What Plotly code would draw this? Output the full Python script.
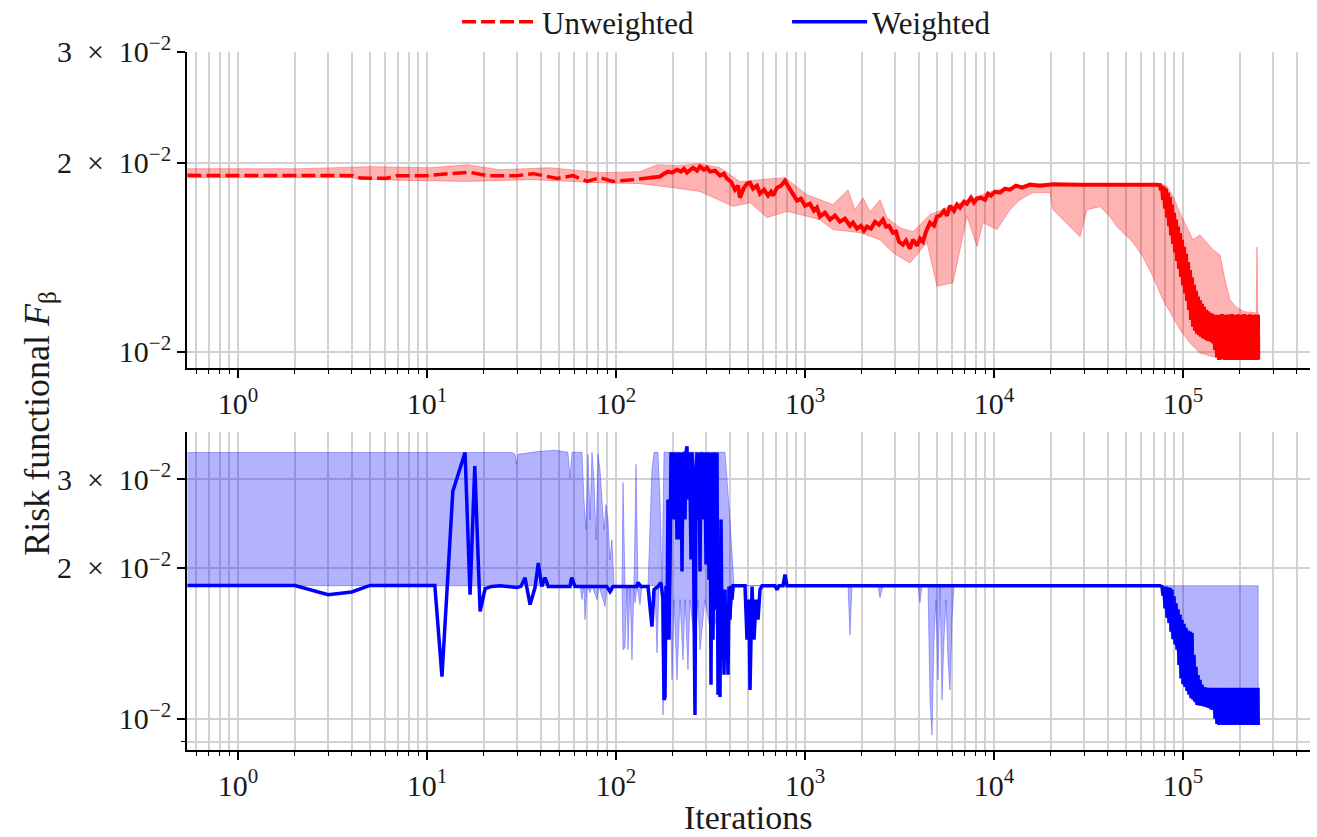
import plotly.graph_objects as go
from plotly.subplots import make_subplots

# ---------------- Unweighted (top panel) ----------------
RED_DASH_X = [0.54, 2.0, 4.06, 4.42, 6.14, 6.94, 10.0, 13.2, 16.9, 20.8, 29.9, 36.4, 48.8, 59.2, 70.3, 82.3, 96.4, 123, 151.3]
RED_DASH_Y = [0.01909, 0.01909, 0.01907, 0.0189, 0.01889, 0.01907, 0.01907, 0.01921, 0.0193, 0.01907, 0.01907, 0.01921, 0.01888, 0.01907, 0.01867, 0.01893, 0.01867, 0.01879, 0.01893]

RED_SOLID_X = [151.3, 161, 171, 179.5, 188.4, 197.9, 210.3, 220.8, 229.0, 237.5,
               246.4, 255.5, 268.3, 278.3, 292.1, 303.0, 314.3, 334.1, 355.1, 372.8,
               386.7, 406.0, 426.2, 442.1, 453.0, 475.6, 493.4, 511.8, 530.8, 557.3,
               578.1, 606.9, 637.2, 661.0, 677.3, 711.1, 746.6, 783.8, 822.9, 864.0,
               907.1, 952.4, 1000, 1063, 1116, 1157, 1200, 1276, 1356, 1441,
               1531, 1628, 1730, 1795, 1884, 1978, 2052, 2128, 2235, 2346,
               2463, 2586, 2683, 2783, 2922, 3030, 3144, 3300, 3423, 3594,
               3728, 3914, 4060, 4211, 4368, 4586, 4814, 4994, 5180, 5438,
               5641, 5850, 6142, 6372, 6609, 6939, 7197, 7556, 7838, 8129,
               8535, 8962, 9295, 9642, 10120, 10760, 11430, 12150, 13070, 14070,
               15500, 17520, 20520, 28510, 42620, 59230, 71970]
RED_SOLID_Y = [0.01893, 0.01900, 0.01900, 0.01921, 0.01935, 0.01928, 0.01949, 0.01935, 0.01956, 0.01928,
               0.01949, 0.01963, 0.01942, 0.01971, 0.01949, 0.01963, 0.01935, 0.01942, 0.01907, 0.01921,
               0.01886, 0.01865, 0.01811, 0.01838, 0.01759, 0.01825, 0.01852, 0.01858, 0.01818, 0.01838,
               0.01785, 0.01811, 0.01772, 0.01798, 0.01772, 0.01825, 0.01838, 0.01872, 0.01825, 0.01785,
               0.01740, 0.01753, 0.01708, 0.01721, 0.01677, 0.01696, 0.01641, 0.01665, 0.01623, 0.01647,
               0.01611, 0.01629, 0.01587, 0.01605, 0.01570, 0.01587, 0.01559, 0.01582, 0.01570, 0.01611,
               0.01593, 0.01623, 0.01582, 0.01587, 0.01547, 0.01553, 0.01497, 0.01481, 0.01503, 0.01459,
               0.01508, 0.01475, 0.01514, 0.01497, 0.01553, 0.01605, 0.01587, 0.01641, 0.01647, 0.01677,
               0.01647, 0.01708, 0.01677, 0.01715, 0.01696, 0.01733, 0.01721, 0.01759, 0.01727, 0.01753,
               0.01759, 0.01746, 0.01785, 0.01772, 0.01798, 0.01792, 0.01818, 0.01811, 0.01838, 0.01825,
               0.01845, 0.01838, 0.01848, 0.01845, 0.01848, 0.01845, 0.01845]

# late iterations (noisy, rapidly alternating phase) shared by both runs
LATE_X = [73760, 74660, 75580, 76510, 77440, 78390, 79350, 80330, 81310, 82310,
          83320, 84340, 85370, 86420, 87480, 88550, 89640, 90730, 91850, 92970,
          94110, 95270, 96430, 97620, 98810, 100000, 101250, 102490, 103750, 105020,
          106300, 107610, 108930, 110260, 111610, 112980, 114370, 115770, 117190, 118620,
          120080, 121550, 123040, 124550, 126070, 127620, 129180, 130770, 132370, 133990,
          135630, 137300, 138980, 140680, 142410, 144150, 145920, 147710, 149520, 151350,
          153210, 155080, 156990, 158910, 160860, 162830, 164830, 166850, 168890, 170960,
          173060, 175180, 177320, 179500, 181700, 183930, 186180, 188460, 190770, 193110,
          195480, 197870, 200300, 202750, 205240, 207750, 210300, 212880, 215490, 218130,
          220800, 223510, 226250, 229020, 231830, 234670, 237550, 240460, 243410, 246390,
          249410, 250000]
RED_LATE_Y = [0.01845, 0.01842, 0.01842, 0.01806, 0.01838, 0.01745, 0.01828, 0.01689, 0.01818, 0.01636,
              0.01792, 0.01584, 0.01765, 0.01532, 0.01715, 0.01485, 0.01665, 0.01439, 0.01623, 0.01395,
              0.01582, 0.01355, 0.01545, 0.01316, 0.01508, 0.01275, 0.01469, 0.01238, 0.01432, 0.01205,
              0.01390, 0.01166, 0.01350, 0.01124, 0.01314, 0.01096, 0.01278, 0.01080, 0.01250, 0.01069,
              0.01224, 0.01063, 0.01208, 0.01057, 0.01192, 0.01051, 0.01179, 0.01047, 0.01166, 0.01043,
              0.01160, 0.01040, 0.01154, 0.01038, 0.01150, 0.01031, 0.01145, 0.01007, 0.01145, 0.00980,
              0.01145, 0.00971, 0.01142, 0.00974, 0.01148, 0.00972, 0.01145, 0.00971, 0.01143, 0.00974,
              0.01146, 0.00971, 0.01144, 0.00973, 0.01148, 0.00971, 0.01145, 0.00974, 0.01142, 0.00971,
              0.01147, 0.00972, 0.01145, 0.00971, 0.01143, 0.00974, 0.01148, 0.00971, 0.01145, 0.00973,
              0.01144, 0.00971, 0.01147, 0.00974, 0.01145, 0.00971, 0.01143, 0.00972, 0.01146, 0.00971,
              0.01145, 0.00972]

RED_UP_X = [0.54, 2.13, 4.99, 10.4, 16.3, 24.3, 44.8, 82.3, 134, 165,
            210, 278, 355, 453, 578, 784, 1025, 1406, 1689, 1839,
            2027, 2208, 2494, 2716, 3182, 3727, 4585, 6609, 9524, 13730,
            17510, 75560, 82300, 88520, 96410, 105000, 112950, 123000, 133970, 144150,
            156960, 166800, 177300, 190700, 212800, 240400, 244000, 246300, 248500, 250000]
RED_UP_Y = [0.01956, 0.01956, 0.01971, 0.01963, 0.01985, 0.01949, 0.01963, 0.01928, 0.01935, 0.01985,
            0.01978, 0.01992, 0.01963, 0.01865, 0.01879, 0.01893, 0.01778, 0.01715, 0.01811, 0.01683,
            0.01759, 0.01671, 0.01746, 0.01635, 0.01576, 0.01553, 0.01653, 0.01727, 0.01798, 0.01838,
            0.01852, 0.01852, 0.01833, 0.01767, 0.01665, 0.01582, 0.01508, 0.01536, 0.01492, 0.01453,
            0.01426, 0.01302, 0.01210, 0.01179, 0.01158, 0.01154, 0.01150, 0.01469, 0.01154, 0.01154]

RED_LO_X = [0.54, 3.91, 4.99, 16.3, 36.4, 82.3, 134, 200, 278, 416,
            512, 630, 803, 1025, 1200, 1406, 1954, 2494, 2922, 3594,
            4420, 4994, 6069, 6609, 7196, 8131, 8746, 10370, 12150, 13730,
            16080, 19790, 20520, 25240, 28510, 31050, 36380, 41100, 44750, 50540,
            54370, 61430, 69380, 78380, 85340, 96410, 108900, 123000, 144150, 250000]
RED_LO_Y = [0.01893, 0.01893, 0.01879, 0.01867, 0.01879, 0.01858, 0.01852, 0.01825, 0.01800, 0.01704,
            0.01727, 0.01635, 0.01673, 0.01643, 0.01623, 0.01565, 0.01547, 0.01508, 0.01437, 0.01385,
            0.01492, 0.01271, 0.01288, 0.01453, 0.01643, 0.01471, 0.01605, 0.01565, 0.01683, 0.01746,
            0.01792, 0.01792, 0.01683, 0.01582, 0.01525, 0.01683, 0.01702, 0.01641, 0.01582, 0.01525,
            0.01492, 0.01416, 0.01317, 0.01210, 0.01154, 0.01084, 0.01033, 0.00996, 0.00982, 0.00971]

# ---------------- Weighted (bottom panel) ----------------
BLUE_X = [0.54, 2.0, 3.0, 4.0, 5.0, 11.0, 12.0, 13.7, 15.9, 16.9,
          17.9, 19.1, 20.3, 22.0, 24.3, 28.2, 29.8, 31.4, 33.0, 35.1,
          37.3, 38.8, 40.5, 42.1, 43.8, 57.1, 58.3, 60.7, 89.3, 92.9,
          96.4, 128.7, 130.7, 135.6, 147.7, 151.3, 155.0, 158.9, 166.8, 173.0,
          177.3, 179.5, 181.7, 183.9, 186.2, 188.4, 190.7, 193.1, 195.4, 197.9,
          200.3, 202.7, 205.2, 207.7, 210.3, 212.8, 215.4, 218.1, 220.8, 223.5,
          226.2, 229.0, 231.8, 234.6, 237.5, 240.4, 243.4, 246.4, 249.4, 252.4,
          255.5, 258.6, 261.8, 265.0, 268.3, 271.6, 274.9, 278.3, 281.7, 285.1,
          288.6, 292.1, 295.7, 299.4, 303.0, 306.8, 310.5, 314.3, 318.2, 322.1,
          326.1, 330.0, 334.1, 338.2, 342.3, 346.5, 350.8, 355.1, 359.5, 363.9,
          368.3, 372.8, 377.4, 382.0, 386.7, 391.4, 396.2, 401.1, 406.0, 411.0,
          415.9, 426.2, 481.6, 493.4, 505.6, 511.8, 524.5, 537.4, 550.6, 564.2,
          578.1, 592.4, 693.8, 711.0, 728.6, 764.9, 783.9, 803.2, 75580]
BLUE_Y = [0.01843, 0.01843, 0.01767, 0.01789, 0.01843, 0.01843, 0.01214, 0.02838, 0.03387, 0.01767,
          0.03184, 0.01636, 0.01816, 0.01835, 0.01841, 0.01833, 0.01825, 0.01835, 0.01910, 0.01688,
          0.01825, 0.02043, 0.01835, 0.01910, 0.01835, 0.01835, 0.01910, 0.01835, 0.01835, 0.01792,
          0.01835, 0.01835, 0.01867, 0.01835, 0.01835, 0.01672, 0.01526, 0.01808, 0.01835, 0.01867,
          0.01727, 0.01091, 0.01106, 0.01841, 0.01575, 0.02733, 0.01437, 0.01982, 0.03390, 0.02695,
          0.03390, 0.02494, 0.03390, 0.03283, 0.02275, 0.03390, 0.03136, 0.02275, 0.03390, 0.01964,
          0.03390, 0.03359, 0.02494, 0.03390, 0.03485, 0.02733, 0.03390, 0.02995, 0.02075, 0.03390,
          0.03136, 0.01727, 0.01018, 0.02995, 0.03390, 0.02494, 0.03390, 0.01964, 0.03390, 0.03283,
          0.03390, 0.02494, 0.03390, 0.02028, 0.03390, 0.03283, 0.01893, 0.03390, 0.01169, 0.03390,
          0.01437, 0.03136, 0.03390, 0.01649, 0.03390, 0.01117, 0.02075, 0.01106, 0.02494, 0.01437,
          0.01727, 0.01224, 0.01808, 0.01311, 0.01672, 0.01224, 0.01833, 0.01575, 0.01841, 0.01727,
          0.01841, 0.01841, 0.01841, 0.01437, 0.01727, 0.01142, 0.01833, 0.01437, 0.01727, 0.01576,
          0.01808, 0.01841, 0.01841, 0.01808, 0.01841, 0.01841, 0.01937, 0.01841, 0.01841]
BLUE_LATE_Y = [0.01833, 0.01759, 0.01833, 0.01659, 0.01833, 0.01590, 0.01828, 0.01552, 0.01823, 0.01491,
               0.01808, 0.01440, 0.01753, 0.01406, 0.01699, 0.01373, 0.01653, 0.01280, 0.01613, 0.01204,
               0.01575, 0.01173, 0.01546, 0.01158, 0.01518, 0.01137, 0.01500, 0.01117, 0.01492, 0.01099,
               0.01484, 0.01093, 0.01342, 0.01082, 0.01270, 0.01066, 0.01222, 0.01065, 0.01196, 0.01063,
               0.01170, 0.01061, 0.01157, 0.01058, 0.01154, 0.01056, 0.01153, 0.01052, 0.01153, 0.01045,
               0.01153, 0.01042, 0.01153, 0.01001, 0.01153, 0.00977, 0.01153, 0.00973, 0.01151, 0.00975,
               0.01153, 0.00973, 0.01150, 0.00974, 0.01153, 0.00973, 0.01152, 0.00975, 0.01153, 0.00973,
               0.01150, 0.00974, 0.01153, 0.00973, 0.01151, 0.00976, 0.01153, 0.00973, 0.01150, 0.00974,
               0.01153, 0.00973, 0.01152, 0.00975, 0.01153, 0.00973, 0.01150, 0.00974, 0.01153, 0.00973,
               0.01151, 0.00975, 0.01153, 0.00973, 0.01150, 0.00974, 0.01153, 0.00973]

BLUE_UP_X = [0.54, 28.2, 29.2, 29.8, 30.3, 39.6, 47.6, 55.7, 57.1, 58.5,
             66.1, 67.7, 69.4, 71.1, 72.9, 74.6, 76.5, 78.4, 80.3, 82.3,
             84.3, 86.4, 88.5, 90.7, 92.9, 95.2, 97.6, 107.6, 108.9, 111.6,
             124.5, 127.6, 130.7, 147.7, 155.0, 158.9, 166.8, 171.0, 175.1, 179.5,
             377.4, 386.7, 401.1, 421.0, 250000]
BLUE_UP_Y = [0.03387, 0.03387, 0.03360, 0.03210, 0.03360, 0.03407, 0.03423, 0.03392, 0.03023, 0.03392,
             0.03392, 0.02731, 0.02381, 0.03360, 0.02493, 0.03392, 0.02994, 0.02275, 0.03360, 0.03136,
             0.02731, 0.02381, 0.02669, 0.02493, 0.02075, 0.02275, 0.01841, 0.01841, 0.02954, 0.01841,
             0.01841, 0.03210, 0.01841, 0.01841, 0.03136, 0.03392, 0.03392, 0.02731, 0.01841, 0.03392,
             0.03392, 0.02994, 0.02493, 0.01841, 0.01841]

BLUE_LO_X = [0.54, 64.5, 66.1, 67.7, 68.5, 70.3, 72.9, 74.6, 79.4, 81.3,
             87.5, 89.6, 95.2, 97.6, 107.6, 108.9, 111.6, 114.3, 115.7, 118.6,
             121.5, 124.5, 126.0, 129.2, 134.0, 137.3, 160.8, 164.8, 168.9, 173.0,
             177.3, 183.9, 188.4, 193.1, 197.9, 202.7, 210.3, 218.1, 226.2, 231.8,
             240.4, 246.4, 261.8, 271.6, 278.2, 295.7, 322.1, 355.1, 377.4, 401.1,
             426.2, 1689, 1730, 1773, 2433, 2494, 2586, 3962, 4060, 4159,
             4475, 4586, 4699, 4814, 4933, 5055, 5180, 5307, 5438, 5572,
             5710, 5850, 5995, 6142, 77400, 79300, 85300, 87500, 92900, 96400,
             102500, 108900, 118600, 134000, 144150, 149500, 250000]
BLUE_LO_Y = [0.01841, 0.01841, 0.01727, 0.01841, 0.01576, 0.01841, 0.01783, 0.01841, 0.01727, 0.01841,
             0.01672, 0.01841, 0.01783, 0.01841, 0.01841, 0.01373, 0.01385, 0.01841, 0.01373, 0.01841,
             0.01311, 0.01841, 0.01703, 0.01841, 0.01688, 0.01841, 0.01841, 0.01354, 0.01841, 0.01841,
             0.01018, 0.01727, 0.01576, 0.01841, 0.01196, 0.01727, 0.01196, 0.01727, 0.01311, 0.01727,
             0.01252, 0.01727, 0.01373, 0.01727, 0.01373, 0.01727, 0.01437, 0.01727, 0.01576, 0.01576,
             0.01841, 0.01841, 0.01470, 0.01841, 0.01841, 0.01743, 0.01841, 0.01841, 0.01703, 0.01841,
             0.01841, 0.01091, 0.00929, 0.01437, 0.01727, 0.01196, 0.01841, 0.01091, 0.01437, 0.01727,
             0.01311, 0.01142, 0.01576, 0.01841, 0.01841, 0.01688, 0.01526, 0.01457, 0.01373, 0.01235,
             0.01158, 0.01106, 0.01066, 0.01056, 0.01042, 0.00982, 0.00973]

# ---------------- ticks ----------------
X_MAJOR = [1, 10, 100, 1000, 10000, 100000]
X_MAJOR_TEXT = ["10<sup>0</sup>", "10<sup>1</sup>", "10<sup>2</sup>", "10<sup>3</sup>", "10<sup>4</sup>", "10<sup>5</sup>"]
Y_TICKS = [0.01, 0.02, 0.03]
Y_TICK_TEXT = ["10<sup>−2</sup>", "2\u2002×\u200210<sup>−2</sup>", "3\u2002×\u200210<sup>−2</sup>"]

FONT = "Liberation Serif"
TXT = "#1a1a1a"
GRID = "#d2d2d2"

x_minor = [m / 10 for m in (6, 7, 8, 9)]
for e in range(0, 6):
    for k in range(2, 10):
        v = k * 10 ** e
        if v < 4.7e5:
            x_minor.append(v)

fig = make_subplots(rows=2, cols=1)

RED_BAND = "rgba(255,0,0,0.3)"
BLUE_BAND = "rgba(0,0,255,0.3)"

fig.add_trace(go.Scatter(x=RED_UP_X + RED_LO_X[::-1], y=RED_UP_Y + RED_LO_Y[::-1],
                         mode="lines", fill="toself", fillcolor=RED_BAND,
                         line=dict(color=RED_BAND, width=1), showlegend=False, hoverinfo="skip"),
              row=1, col=1)
fig.add_trace(go.Scatter(x=RED_DASH_X, y=RED_DASH_Y, mode="lines", name="Unweighted",
                         line=dict(color="#ff0000", width=3.5, dash="14px,5px")), row=1, col=1)
fig.add_trace(go.Scatter(x=RED_SOLID_X + LATE_X, y=RED_SOLID_Y + RED_LATE_Y, mode="lines",
                         showlegend=False, line=dict(color="#ff0000", width=4)), row=1, col=1)

fig.add_trace(go.Scatter(x=BLUE_UP_X + BLUE_LO_X[::-1], y=BLUE_UP_Y + BLUE_LO_Y[::-1],
                         mode="lines", fill="toself", fillcolor=BLUE_BAND,
                         line=dict(color=BLUE_BAND, width=1), showlegend=False, hoverinfo="skip"),
              row=2, col=1)
fig.add_trace(go.Scatter(x=BLUE_X + LATE_X[4:], y=BLUE_Y + BLUE_LATE_Y, mode="lines", name="Weighted",
                         line=dict(color="#0000ff", width=3.5)), row=2, col=1)

xcommon = dict(type="log", range=[-0.2698, 5.672], tickmode="array", tickvals=X_MAJOR,
               ticktext=X_MAJOR_TEXT, showgrid=True, gridcolor=GRID, gridwidth=1.6,
               showline=True, linecolor="black", linewidth=1.6, ticks="outside", ticklen=8,
               tickwidth=1.5, tickcolor="black", zeroline=False,
               tickfont=dict(family=FONT, size=30, color=TXT),
               minor=dict(tickmode="array", tickvals=x_minor, ticks="outside", ticklen=4,
                          tickwidth=1.2, tickcolor="black", showgrid=True, gridcolor=GRID,
                          gridwidth=1.6))
fig.update_xaxes(**xcommon)

ycommon = dict(type="log", tickmode="array", tickvals=Y_TICKS, ticktext=Y_TICK_TEXT,
               showgrid=True, gridcolor=GRID, gridwidth=1.6, showline=True, linecolor="black",
               linewidth=1.6, ticks="outside", ticklen=8, tickwidth=1.5, tickcolor="black",
               zeroline=False, tickfont=dict(family=FONT, size=30, color=TXT))
fig.update_yaxes(**ycommon)
fig.update_yaxes(range=[-2.0265, -1.5229], domain=[0.5466, 1.0], row=1, col=1)
fig.update_yaxes(range=[-2.0618, -1.4292], domain=[0.0, 0.4556], row=2, col=1,
                 minor=dict(tickmode="array", tickvals=[0.009], ticks="outside", ticklen=4,
                            tickwidth=1.2, tickcolor="black", showgrid=True, gridcolor=GRID,
                            gridwidth=1.6))

fig.update_layout(
    width=1317, height=837,
    margin=dict(l=187, r=7, t=52, b=87, autoexpand=False),
    paper_bgcolor="white", plot_bgcolor="white",
    font=dict(family=FONT, color=TXT),
    legend=dict(orientation="h", x=0.2405, xanchor="left", y=1.043, yanchor="middle",
                font=dict(family=FONT, size=31, color=TXT), bgcolor="rgba(0,0,0,0)",
                itemwidth=75, entrywidth=240),
    annotations=[
        dict(text="Risk functional <i>F</i><sub>β</sub>", x=-0.131, y=0.4685, xref="paper",
             yref="paper", textangle=-90, showarrow=False, xanchor="center", yanchor="middle",
             font=dict(family=FONT, size=36, color=TXT)),
        dict(text="Iterations", x=0.4996, y=-0.0965, xref="paper", yref="paper",
             showarrow=False, xanchor="center", yanchor="middle", borderpad=0,
             font=dict(family=FONT, size=34, color=TXT)),
    ],
)

fig.write_html("out.html")
